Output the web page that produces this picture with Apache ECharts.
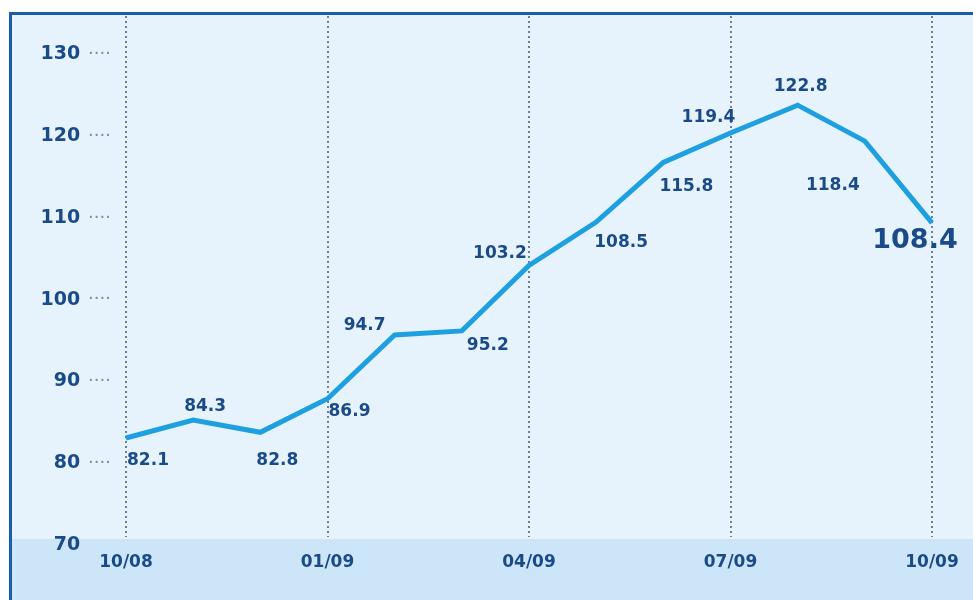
<!DOCTYPE html>
<html>
<head>
<meta charset="utf-8">
<script src="https://cdn.jsdelivr.net/npm/echarts@6/dist/echarts.min.js"></script>
<style>
html,body{margin:0;padding:0;background:#fff;}
#chart{width:973px;height:600px;}
</style>
</head>
<body>
<div id="chart"></div>
<script>
// Data
var categories = ['10/08','11/08','12/08','01/09','02/09','03/09','04/09','05/09','06/09','07/09','08/09','09/09','10/09'];
var values = [82.1, 84.3, 82.8, 86.9, 94.7, 95.2, 103.2, 108.5, 115.8, 119.4, 122.8, 118.4, 108.4];
var yTicks = [70, 80, 90, 100, 110, 120, 130];
// label offsets (styling only)
var labelOffsets = [[22,23],[12,-13],[17,29],[22,13],[-30,-9],[26,15],[-29,-11],[25,21],[23,25],[-22,-15],[3,-18],[-32,45],[-17,19]];

var textColor = '#1a4b88';
var seriesData = values.map(function (v, i) {
  var last = i === values.length - 1;
  return {
    value: v,
    label: {
      show: true,
      position: 'top',
      distance: 0,
      align: 'center',
      verticalAlign: 'middle',
      offset: labelOffsets[i],
      fontSize: last ? 27 : 17,
      fontWeight: 'bold',
      fontFamily: 'DejaVu Sans',
      color: textColor,
      formatter: function (p) { return p.value.toFixed(1); }
    }
  };
});

var chart = echarts.init(document.getElementById('chart'), null, {renderer: 'canvas'});
chart.setOption({
  animation: false,
  backgroundColor: '#ffffff',
  graphic: [
    {type: 'rect', z: -10, shape: {x: 11, y: 14, width: 962, height: 586}, style: {fill: '#e6f3fd'}},
    {type: 'rect', z: -9, shape: {x: 11, y: 539, width: 962, height: 61}, style: {fill: '#cce5f8'}},
    {type: 'rect', z: -8, shape: {x: 9, y: 12, width: 964, height: 3}, style: {fill: '#1b5ea8'}},
    {type: 'rect', z: -8, shape: {x: 9, y: 12, width: 3, height: 588}, style: {fill: '#1b5ea8'}}
  ],
  grid: {left: 126, right: 41, top: 16, bottom: 63, containLabel: false},
  xAxis: {
    type: 'category',
    data: categories,
    boundaryGap: false,
    axisLine: {show: false},
    axisTick: {show: false},
    axisLabel: {
      interval: 2,
      margin: 17,
      fontSize: 17,
      fontWeight: 'bold',
      fontFamily: 'DejaVu Sans',
      color: textColor
    },
    splitLine: {
      show: true,
      interval: 2,
      lineStyle: {color: '#6d7f98', width: 2, type: [2, 3]}
    }
  },
  yAxis: {
    type: 'value',
    min: 70,
    max: 133.7,
    interval: 10,
    axisLine: {show: false},
    axisTick: {show: false},
    splitLine: {show: false},
    axisLabel: {
      showMaxLabel: false,
      margin: 15,
      formatter: function (v) {
        if (yTicks.indexOf(v) < 0) return '';
        if (v === 70) return '{v|' + v + '}{n|····}';
        return '{v|' + v + '}{d|····}';
      },
      rich: {
        v: {fontSize: 19, fontWeight: 'bold', fontFamily: 'DejaVu Sans', color: textColor, padding: [16, 8, 0, 0]},
        d: {fontSize: 18, fontFamily: 'DejaVu Sans', color: '#7d8da3', padding: [16, 0, 0, 0]},
        n: {fontSize: 18, fontFamily: 'DejaVu Sans', color: 'rgba(0,0,0,0)', padding: [16, 0, 0, 0]}
      }
    }
  },
  series: [{
    type: 'line',
    data: seriesData,
    symbol: 'circle',
    symbolSize: 1,
    itemStyle: {color: '#1ea0e0'},
    lineStyle: {color: '#1ea0e0', width: 5, join: 'miter'},
    z: 5
  }]
});
</script>
</body>
</html>
